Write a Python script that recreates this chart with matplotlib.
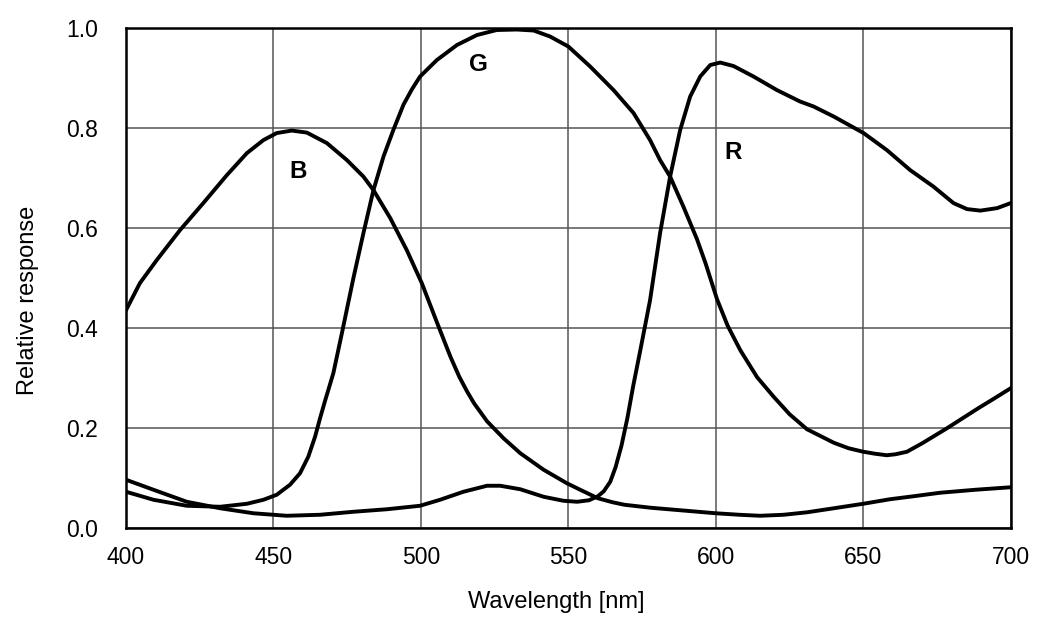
import matplotlib
matplotlib.use("Agg")
import matplotlib.pyplot as plt

plt.rcParams['font.family'] = ['Liberation Sans', 'DejaVu Sans']

# values, wavelength in nm
b_nm = [400, 404.7, 410.4, 418.3, 426.2, 434.2, 441, 446.6, 451.1, 456.2,
        461.3, 468.1, 474.9, 480.5, 483.9, 489.6, 495.2, 500.3, 505.4, 510,
        513, 515.6, 518, 522.4, 528, 533.7, 541.6, 549.5, 554, 560, 565, 569,
        578, 586, 600, 608, 615, 623, 631, 640, 650, 659, 667, 676, 688, 700]
b_val = [0.436, 0.490, 0.536, 0.596, 0.650, 0.706, 0.750, 0.776, 0.790, 0.795,
         0.791, 0.770, 0.736, 0.703, 0.676, 0.620, 0.556, 0.490, 0.412, 0.343,
         0.303, 0.274, 0.250, 0.214, 0.180, 0.150, 0.117, 0.090, 0.077, 0.060,
         0.052, 0.047, 0.041, 0.037, 0.030, 0.027, 0.025, 0.027, 0.032, 0.040,
         0.049, 0.058, 0.064, 0.071, 0.077, 0.082]

g_nm = [400, 409.3, 420.6, 431.9, 441, 446.6, 451.1, 455.6, 459, 461.8, 464.1,
        465.8, 467.5, 470.3, 473.2, 477.1, 480.5, 483.9, 487.3, 490.7, 494.1,
        497, 499.7, 505.4, 512.2, 519, 525.7, 532.5, 538.2, 543.8, 550,
        557.4, 565.3, 572.1, 577.7, 581.1, 584.5, 589, 593.6, 596.5, 600.4,
        604, 608.3, 614, 619.6, 625, 630.9, 640, 645, 650, 654, 658, 661,
        664.8, 670, 678.4, 689, 694, 700]
g_val = [0.073, 0.057, 0.045, 0.043, 0.049, 0.057, 0.067, 0.087, 0.110, 0.143,
         0.183, 0.220, 0.255, 0.310, 0.390, 0.500, 0.590, 0.676, 0.743, 0.797,
         0.847, 0.878, 0.903, 0.936, 0.966, 0.986, 0.996, 0.997, 0.995, 0.983,
         0.963, 0.923, 0.876, 0.830, 0.776, 0.736, 0.703, 0.643, 0.578, 0.530,
         0.458, 0.405, 0.356, 0.302, 0.263, 0.228, 0.198, 0.171, 0.160, 0.153,
         0.149, 0.146, 0.148, 0.153, 0.170, 0.200, 0.240, 0.258, 0.280]

r_nm = [400, 409.3, 420.6, 431.9, 443.2, 454.5, 465.8, 477.1, 488.4, 499.7,
        506.5, 514.4, 522.4, 526.9, 533.7, 541.6, 548.3, 553, 557, 560, 562,
        564.2, 566, 568, 570, 572, 574.4, 577.7, 581.1, 584.5, 587.9, 591.3,
        594.7, 598.1, 601.5, 606, 612.8, 620.7, 628.6, 633.2, 640, 650.1, 658,
        665.9, 673.8, 680.6, 685.2, 689.7, 695.4, 700]
r_val = [0.097, 0.077, 0.053, 0.040, 0.030, 0.025, 0.027, 0.033, 0.038, 0.045,
         0.057, 0.073, 0.085, 0.085, 0.078, 0.063, 0.055, 0.053, 0.056, 0.064,
         0.074, 0.093, 0.122, 0.165, 0.220, 0.285, 0.356, 0.456, 0.590, 0.703,
         0.796, 0.863, 0.903, 0.926, 0.931, 0.924, 0.903, 0.876, 0.853, 0.843,
         0.823, 0.790, 0.756, 0.716, 0.683, 0.650, 0.638, 0.635, 0.640, 0.650]

curve_labels = ['B', 'G', 'R']
label_nm = [458.2, 519.5, 606]
label_val = [0.713, 0.928, 0.751]

x_ticks = [400, 450, 500, 550, 600, 650, 700]
y_ticks = [0.0, 0.2, 0.4, 0.6, 0.8, 1.0]

fig = plt.figure(figsize=(10.45, 6.24), dpi=100)
ax = fig.add_axes([0.1206, 0.1534, 0.8466, 0.8017])

for nm, val in [(b_nm, b_val), (g_nm, g_val), (r_nm, r_val)]:
    ax.plot(nm, val, color='black', lw=2.8, solid_joinstyle='round',
            solid_capstyle='round', zorder=3)

for lab, x, y in zip(curve_labels, label_nm, label_val):
    ax.text(x, y, lab, fontsize=17.5, fontweight='bold', ha='center',
            va='center', zorder=4)

ax.set_xlim(400, 700)
ax.set_ylim(0, 1.0)
ax.set_xticks(x_ticks)
ax.set_yticks(y_ticks)
ax.set_yticklabels(['%.1f' % v for v in y_ticks])
ax.tick_params(length=0, labelsize=16.5)
ax.tick_params(axis='x', pad=12.5)
ax.tick_params(axis='y', pad=20)
ax.grid(True, color='#555555', lw=1.1)
for sp in ax.spines.values():
    sp.set_linewidth(1.8)

ax.set_xlabel('Wavelength [nm]', fontsize=17)
ax.set_ylabel('Relative response', fontsize=17)
ax.xaxis.set_label_coords(0.486, -0.126)
ax.yaxis.set_label_coords(-0.098, 0.455)

fig.savefig('out.png', dpi=100)
